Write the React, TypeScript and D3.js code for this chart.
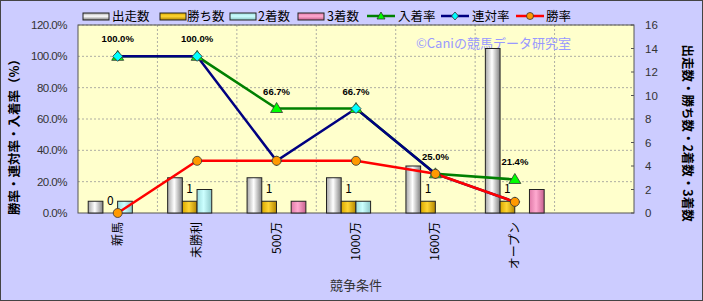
import React from "react";
import * as d3 from "d3";

const categories = ["新馬", "未勝利", "500万", "1000万", "1600万", "オープン", ""];
const starts = [1, 3, 3, 3, 4, 14];
const wins = [0, 1, 1, 1, 1, 1];
const seconds = [1, 2, 0, 1, 0, 0];
const thirds = [0, 0, 1, 0, 0, 2];
const placeRate = [100, 100, 66.7, 66.7, 25, 21.4];
const rentaiRate = [100, 100, 33.3, 66.7, 25, 7.1];
const winRate = [0, 33.3, 33.3, 33.3, 25, 7.1];
const leftTicks = [0, 20, 40, 60, 80, 100, 120];
const rightTicks = [0, 2, 4, 6, 8, 10, 12, 14, 16];

const W = 703, H = 301;
const L = 78, R = 634, T = 25, B = 213;
const JP = "'Noto Sans CJK JP', sans-serif";

export default function App() {
  const x = d3.scaleBand<string>().domain(categories.map((c, i) => c + i)).range([L, R]);
  const yL = d3.scaleLinear().domain([0, 120]).range([B, T]);
  const yR = d3.scaleLinear().domain([0, 16]).range([B, T]);
  const cx = (i: number) => (x(categories[i] + i) as number) + x.bandwidth() / 2;
  const bw = 14.7;
  const barSeries = [
    { name: "出走数", vals: starts, grad: "gGray" },
    { name: "勝ち数", vals: wins, grad: "gGold" },
    { name: "2着数", vals: seconds, grad: "gCyan" },
    { name: "3着数", vals: thirds, grad: "gPink" },
  ];
  const lineSeries = [
    { name: "入着率", vals: placeRate, color: "#008000", fill: "#00ff00", marker: "tri" },
    { name: "連対率", vals: rentaiRate, color: "#000080", fill: "#00ffff", marker: "dia" },
    { name: "勝率", vals: winRate, color: "#ff0000", fill: "#ff9900", marker: "cir" },
  ];
  const lineGen = d3.line<number>().x((_, i) => cx(i)).y((v) => yL(v));

  const marker = (type: string, fill: string, px: number, py: number, key: string) => {
    if (type === "tri")
      return <path key={key} d={`M${px},${py - 6}L${px + 6},${py + 4}L${px - 6},${py + 4}Z`} fill={fill} stroke="#333" strokeWidth={0.8} />;
    if (type === "dia")
      return <path key={key} d={`M${px},${py - 5}L${px + 5},${py}L${px},${py + 5}L${px - 5},${py}Z`} fill={fill} stroke="#333" strokeWidth={0.8} />;
    return <circle key={key} cx={px} cy={py} r={4.5} fill={fill} stroke="#333" strokeWidth={0.8} />;
  };

  const gradDefs = [
    { id: "gGray", c: ["#a8a8a8", "#ffffff", "#808080"] },
    { id: "gGold", c: ["#d9a800", "#ffd633", "#b38600"] },
    { id: "gCyan", c: ["#9fdede", "#ccffff", "#8cc8c8"] },
    { id: "gPink", c: ["#e07aa8", "#ffaad0", "#c8608e"] },
  ];

  const legendBars = [
    { x: 83, tx: 112 },
    { x: 160, tx: 187 },
    { x: 230, tx: 258 },
    { x: 298, tx: 327 },
  ];
  const legendLines = [
    { x: 367, tx: 398 },
    { x: 441, tx: 472 },
    { x: 516, tx: 546 },
  ];

  return (
    <svg width={W} height={H} style={{ position: "absolute", left: 0, top: 0 }}>
      <defs>
        {gradDefs.map((g) => (
          <linearGradient key={g.id} id={g.id} x1="0" x2="1" y1="0" y2="0">
            <stop offset="0" stopColor={g.c[0]} />
            <stop offset="0.45" stopColor={g.c[1]} />
            <stop offset="1" stopColor={g.c[2]} />
          </linearGradient>
        ))}
        {gradDefs.map((g) => (
          <linearGradient key={g.id + "v"} id={g.id + "v"} x1="0" x2="0" y1="0" y2="1">
            <stop offset="0" stopColor={g.c[0]} />
            <stop offset="0.45" stopColor={g.c[1]} />
            <stop offset="1" stopColor={g.c[2]} />
          </linearGradient>
        ))}
      </defs>
      <rect x={0.5} y={0.5} width={W - 1} height={H - 1} fill="#ccccff" stroke="#444" strokeWidth={1} />
      <rect x={L} y={T} width={R - L} height={B - T} fill="#ffffcc" />
      {/* grid */}
      {leftTicks.slice(1).map((t) => (
        <line key={"gy" + t} x1={L} x2={R} y1={yL(t)} y2={yL(t)} stroke="#999" strokeDasharray="2,2" strokeWidth={0.8} />
      ))}
      {categories.slice(1).map((c, i) => {
        const xx = x(c + (i + 1)) as number;
        return <line key={"gx" + i} x1={xx} x2={xx} y1={T} y2={B} stroke="#999" strokeDasharray="2,2" strokeWidth={0.8} />;
      })}
      <rect x={L} y={T} width={R - L} height={B - T} fill="none" stroke="#555" strokeWidth={1} />
      {/* watermark */}
      <text x={416} y={48} fontFamily={JP} fontSize={13} fill="#9999ff">©Caniの競馬データ研究室</text>
      {/* bars */}
      {categories.slice(0, 6).map((c, i) =>
        barSeries.map((s, j) => {
          const v = s.vals[i];
          if (!v) return null;
          const bx = cx(i) - 29.5 + j * bw;
          return (
            <rect key={c + s.name} x={bx} y={yR(v)} width={bw} height={B - yR(v)} fill={`url(#${s.grad})`} stroke="#222" strokeWidth={1} />
          );
        })
      )}
      {/* win count labels */}
      {wins.map((v, i) => (
        <text key={"wl" + i} x={cx(i) - 29.5 + bw * 1.5} y={yR(v) - 8} fontFamily={JP} fontSize={12} textAnchor="middle" fill="#000">{v}</text>
      ))}
      {/* lines */}
      {lineSeries.map((s) => (
        <path key={s.name} d={lineGen(s.vals) as string} fill="none" stroke={s.color} strokeWidth={2.5} />
      ))}
      {lineSeries.map((s) => s.vals.map((v, i) => marker(s.marker, s.fill, cx(i), yL(v), s.name + i)))}
      {/* place rate labels */}
      {placeRate.map((v, i) => (
        <text key={"pl" + i} x={cx(i)} y={yL(v) - 14} fontFamily="Arial, sans-serif" fontSize={9.5} fontWeight="bold" textAnchor="middle" fill="#000">{v.toFixed(1)}%</text>
      ))}
      {/* left axis */}
      {leftTicks.map((t) => (
        <text key={"lt" + t} x={67} y={yL(t) + 4} fontFamily="Arial, sans-serif" fontSize={11.5} textAnchor="end" fill="#333" letterSpacing={-0.5}>{t.toFixed(1)}%</text>
      ))}
      {/* right axis */}
      {rightTicks.map((t) => (
        <g key={"rt" + t}>
          <line x1={R - 3} x2={R} y1={yR(t)} y2={yR(t)} stroke="#555" />
          <text x={645} y={yR(t) + 4} fontFamily="Arial, sans-serif" fontSize={11.5} fill="#333">{t}</text>
        </g>
      ))}
      {/* x labels */}
      {categories.slice(0, 6).map((c, i) => (
        <text key={"xl" + i} transform={`translate(${cx(i) + 4},222) rotate(-90)`} fontFamily={JP} fontSize={12} textAnchor="end" fill="#000">{c}</text>
      ))}
      <text x={356} y={290} fontFamily={JP} fontSize={13} textAnchor="middle" fill="#333">競争条件</text>
      {/* axis titles */}
      <text transform={`translate(19,134) rotate(-90)`} fontFamily={JP} fontSize={12.5} fontWeight="bold" textAnchor="middle" fill="#000">勝率・連対率・入着率（%）</text>
      <text transform={`translate(683,133) rotate(90)`} fontFamily={JP} fontSize={12.5} fontWeight="bold" textAnchor="middle" fill="#000">出走数・勝ち数・2着数・3着数</text>
      {/* legend */}
      {barSeries.map((s, j) => (
        <g key={"lg" + j}>
          <rect x={legendBars[j].x} y={13} width={26} height={7} fill={`url(#${s.grad}v)`} stroke="#222" strokeWidth={1} />
          <text x={legendBars[j].tx} y={21} fontFamily={JP} fontSize={12.5} fill="#000">{s.name}</text>
        </g>
      ))}
      {lineSeries.map((s, j) => (
        <g key={"ll" + j}>
          <line x1={legendLines[j].x} x2={legendLines[j].x + 28} y1={16} y2={16} stroke={s.color} strokeWidth={2.5} />
          {s.marker === "tri" ? (
            <path d={`M${legendLines[j].x + 14},${12}L${legendLines[j].x + 18},${19}L${legendLines[j].x + 10},${19}Z`} fill={s.fill} stroke="#333" strokeWidth={0.8} />
          ) : s.marker === "dia" ? (
            <path d={`M${legendLines[j].x + 14},12L${legendLines[j].x + 17.5},16L${legendLines[j].x + 14},20L${legendLines[j].x + 10.5},16Z`} fill={s.fill} stroke="#333" strokeWidth={0.8} />
          ) : (
            <circle cx={legendLines[j].x + 14} cy={16} r={3.5} fill={s.fill} stroke="#333" strokeWidth={0.8} />
          )}
          <text x={legendLines[j].tx} y={21} fontFamily={JP} fontSize={12.5} fill="#000">{s.name}</text>
        </g>
      ))}
    </svg>
  );
}
